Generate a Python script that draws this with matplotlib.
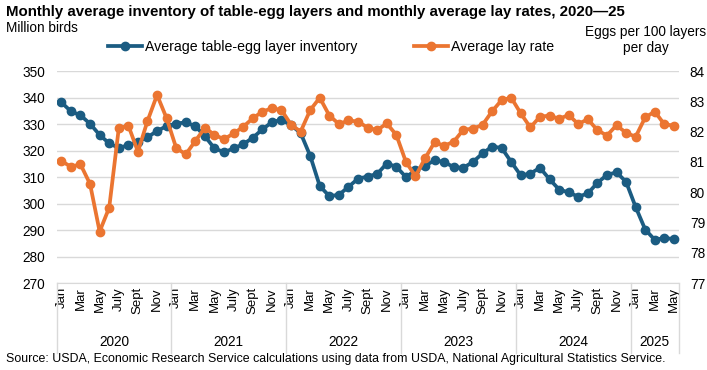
import matplotlib
matplotlib.use("Agg")
import matplotlib.pyplot as plt
import matplotlib.transforms as mtransforms
import numpy as np

plt.rcParams['font.family'] = ['Liberation Sans', 'DejaVu Sans']

# data, Jan 2020 .. May 2025
years = ['2020', '2021', '2022', '2023', '2024', '2025']
month_names = ['Jan', 'Feb', 'Mar', 'Apr', 'May', 'Jun', 'July', 'Aug', 'Sept', 'Oct', 'Nov', 'Dec']
months_2025 = 5

inventory = [338.2, 334.8, 333.3, 330.1, 325.9, 322.7, 321.0, 322.0, 323.4, 325.0, 327.4, 329.2,
             330.2, 330.6, 329.2, 325.4, 320.8, 319.4, 320.8, 322.4, 324.8, 328.0, 330.7, 331.6,
             329.6, 326.6, 318.0, 306.6, 302.8, 303.3, 306.3, 309.4, 310.2, 311.2, 315.1, 313.9,
             310.0, 312.5, 314.3, 316.3, 315.7, 313.7, 313.5, 315.7, 318.9, 321.5, 321.0, 315.7,
             310.6, 311.3, 313.5, 309.2, 305.3, 304.2, 302.6, 303.8, 307.8, 310.8, 311.8, 308.2,
             298.7, 290.2, 286.3, 287.0, 286.6]

lay_rate = [81.03, 80.84, 80.92, 80.27, 78.70, 79.49, 82.11, 82.20, 81.34, 82.35, 83.21, 82.44,
            81.46, 81.25, 81.69, 82.13, 81.89, 81.75, 81.94, 82.16, 82.44, 82.66, 82.77, 82.71,
            82.23, 82.00, 82.71, 83.12, 82.53, 82.25, 82.37, 82.33, 82.13, 82.05, 82.27, 81.89,
            81.00, 80.53, 81.12, 81.65, 81.53, 81.67, 82.06, 82.10, 82.22, 82.67, 83.04, 83.12,
            82.60, 82.14, 82.49, 82.53, 82.42, 82.55, 82.25, 82.41, 82.05, 81.87, 82.21, 81.96,
            81.83, 82.47, 82.66, 82.24, 82.20]

blue = '#1b5c82'
orange = '#eb7531'
grid_col = '#d9d9d9'

n = len(inventory)
x = np.arange(n)

fig = plt.figure(figsize=(7.07, 3.70), dpi=100)
ax = fig.add_axes([0.080, 0.235, 0.880, 0.573])
ax2 = ax.twinx()

ax.plot(x, inventory, color=blue, lw=2.7, marker='o', ms=6, zorder=3,
        label='Average table-egg layer inventory')
ax2.plot(x, lay_rate, color=orange, lw=2.7, marker='o', ms=6, zorder=3,
         label='Average lay rate')

ax.set_xlim(-0.5, n - 0.5)
ax.set_ylim(270, 350)
ax.set_yticks(range(270, 351, 10))
ax2.set_ylim(77, 84)
ax2.set_yticks(range(77, 85))

ax.grid(axis='y', color=grid_col, lw=1)
ax.set_axisbelow(True)

for a in (ax, ax2):
    for s in ('top', 'left', 'right'):
        a.spines[s].set_visible(False)
    a.spines['bottom'].set_color(grid_col)
ax2.spines['bottom'].set_visible(False)

ax.tick_params(axis='y', length=0, labelsize=9.8, pad=8)
ax2.tick_params(axis='y', length=0, labelsize=9.8, pad=8)

# month tick labels every other month
tick_pos = []
tick_lab = []
for i in range(n):
    m = i % 12
    if m % 2 == 0:
        tick_pos.append(i)
        tick_lab.append(month_names[m])
ax.set_xticks(tick_pos)
ax.set_xticklabels(tick_lab, rotation=90, fontsize=9.5)
ax.tick_params(axis='x', length=0, pad=3)

# year labels and separators below the axis
trans = mtransforms.blended_transform_factory(ax.transData, ax.transAxes)
bounds = [-0.5]
for k, yr in enumerate(years):
    start = k * 12
    end = start + (12 if yr != '2025' else months_2025)
    bounds.append(end - 0.5)
    ax.text((start + end - 1) / 2, -0.278, yr, transform=trans, ha='center', va='center',
            fontsize=9.8)
for b in bounds:
    ax.plot([b, b], [0, -0.33], transform=trans, color=grid_col, lw=1, clip_on=False)

# texts
fig.text(0.008, 1 - 12 / 370, 'Monthly average inventory of table-egg layers and monthly average lay rates, 2020\u201425',
         fontsize=10.8, fontweight='bold', va='center', ha='left')
fig.text(0.008, 1 - 28 / 370, 'Million birds', fontsize=9.8, va='center', ha='left')
fig.text(0.913, 1 - 40 / 370, 'Eggs per 100 layers\nper day', fontsize=9.8, va='center', ha='center',
         linespacing=1.2)
fig.text(0.008, 1 - 359 / 370,
         'Source: USDA, Economic Research Service calculations using data from USDA, National Agricultural Statistics Service.',
         fontsize=8.9, va='center', ha='left')

h1, l1 = ax.get_legend_handles_labels()
h2, l2 = ax2.get_legend_handles_labels()
fig.legend(h1 + h2, l1 + l2, loc='center', bbox_to_anchor=(0.468, 1 - 47 / 370), ncol=2,
           frameon=False, fontsize=10.2, handlelength=2.4, handletextpad=0.2, columnspacing=4.0,
           borderaxespad=0, borderpad=0)

fig.savefig('out.png', dpi=100)
